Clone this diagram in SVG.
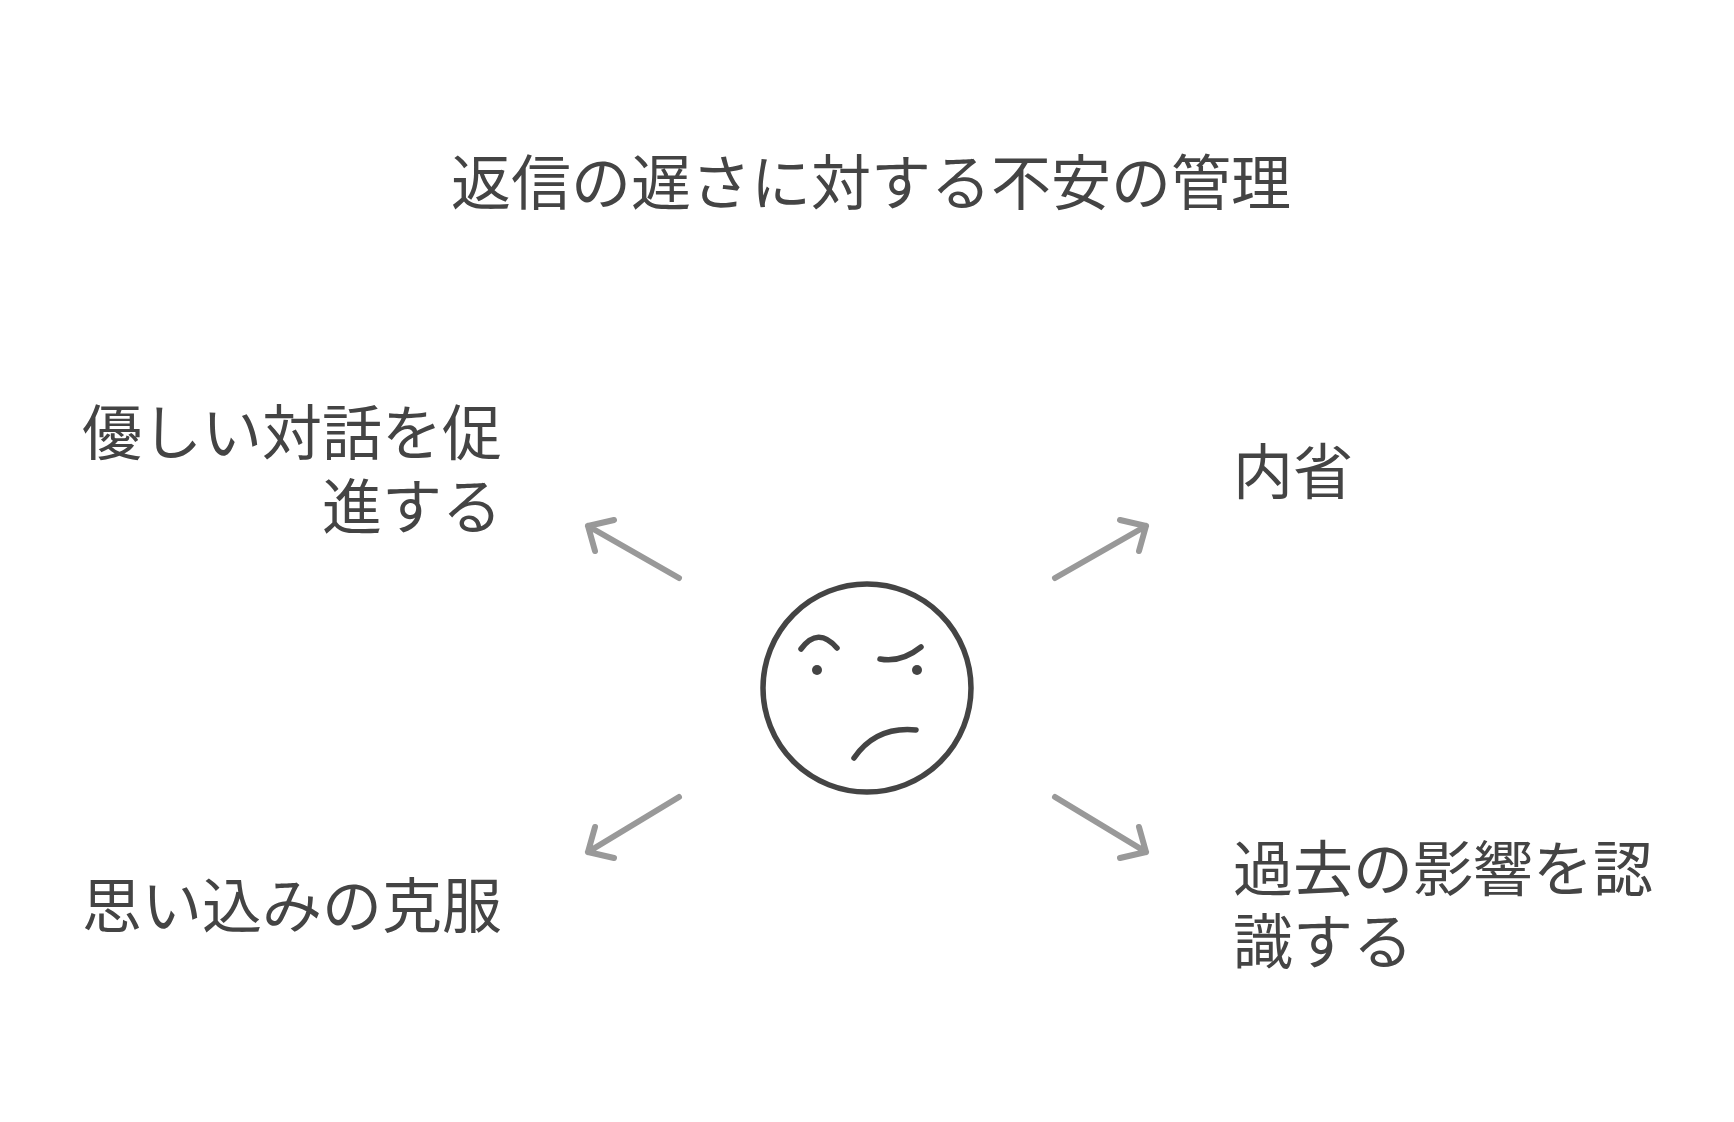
<svg xmlns="http://www.w3.org/2000/svg" width="1734" height="1122" viewBox="0 0 1734 1122">
<style>
text{font-family:"Noto Sans CJK JP","Noto Sans",sans-serif;fill:#444}
.lbl{font-size:60px}
.arr{stroke:#999;stroke-width:6;stroke-linecap:round;fill:none}
.face{stroke:#444;stroke-width:5.5;stroke-linecap:round;fill:none}
</style>
<rect width="1734" height="1122" fill="#fff"/>
<g id="title"><text x="871" y="205" font-size="60" text-anchor="middle">返信の遅さに対する不安の管理</text></g>
<g id="face" transform="translate(-4,-2)">
<ellipse class="face" cx="871" cy="690" rx="104" ry="104"/>
<path class="face" d="M805 651 Q822 628 841 650"/>
<path class="face" d="M884 661 Q905 665 925 649"/>
<circle cx="821" cy="672" r="5" fill="#444"/>
<circle cx="921" cy="672" r="5" fill="#444"/>
<path class="face" d="M858 760 Q880 728 920 732"/>
</g>
<g id="connectors" transform="translate(-4,-2)">
<path class="arr" d="M683 580 L592 528 M592 528 L618 522 M592 528 L599 553"/>
<path class="arr" d="M1059 580 L1150 528 M1150 528 L1124 522 M1150 528 L1143 553"/>
<path class="arr" d="M683 799 L592 854 M592 854 L618 860 M592 854 L599 829"/>
<path class="arr" d="M1059 799 L1150 854 M1150 854 L1124 860 M1150 854 L1143 829"/>
</g>
<g id="n1"><text class="lbl" text-anchor="end"><tspan x="502" y="455">優しい対話を促</tspan><tspan x="502" y="529">進する</tspan></text></g>
<g id="n2"><text class="lbl" x="1233" y="494">内省</text></g>
<g id="n3"><text class="lbl" x="502" y="928" text-anchor="end">思い込みの克服</text></g>
<g id="n4"><text class="lbl"><tspan x="1233" y="891">過去の影響を認</tspan><tspan x="1233" y="964">識する</tspan></text></g>
</svg>
